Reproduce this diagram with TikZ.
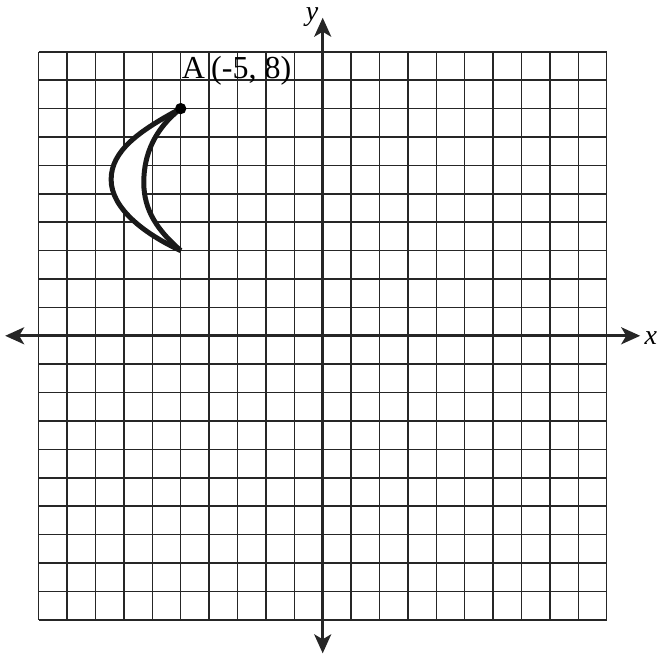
\documentclass[tikz,border=0pt]{standalone}
\usepackage{fontspec}
\setmainfont{Liberation Serif}
\usetikzlibrary{arrows.meta}
\begin{document}
\begin{tikzpicture}[x=28.4pt,y=28.4pt,
  gridline/.style={line width=1.5pt,black!85},
  axisline/.style={line width=2.8pt,black!85,{Stealth[length=19pt,width=17pt,inset=5pt]}-{Stealth[length=19pt,width=17pt,inset=5pt]}},
  curveline/.style={line width=5pt,black!90,line join=round},
  lbl/.style={font=\fontsize{32}{34}\selectfont,inner sep=0pt},
  axlbl/.style={font=\fontsize{28}{30}\selectfont\itshape,inner sep=0pt}]
\useasboundingbox (-11.363,-11.275) rectangle (11.912,11.824);
\foreach \i in {-10,...,10} {
  \draw[gridline] (\i,-10) -- (\i,10);
  \draw[gridline] (-10,\i) -- (10,\i);
}
\coordinate (xl) at (-11.18,0);
\coordinate (xr) at (11.18,0);
\coordinate (yb) at (0,-11.18);
\coordinate (yt) at (0,11.2);
\draw[axisline] (xl) -- (xr);
\draw[axisline] (yb) -- (yt);
\node[axlbl,anchor=base west] (xlab) at (11.33,-0.32) {x};
\node[axlbl,anchor=base west] (ylab) at (-0.6,11.1) {y};
\coordinate (A) at (-5,8);
\coordinate (B) at (-5,3);
\fill[white] (A) .. controls (-6.5,7.2) and (-7.45,6.5) .. (-7.45,5.5)
  .. controls (-7.45,4.5) and (-6.3,3.6) .. (B)
  .. controls (-5.8,3.7) and (-6.3,4.4) .. (-6.3,5.4)
  .. controls (-6.3,6.4) and (-5.9,7.3) .. (A) -- cycle;
\draw[curveline] (A) .. controls (-6.5,7.2) and (-7.45,6.5) .. (-7.45,5.5)
  .. controls (-7.45,4.5) and (-6.3,3.6) .. (B);
\draw[curveline] (A) .. controls (-5.9,7.3) and (-6.3,6.4) .. (-6.3,5.4)
  .. controls (-6.3,4.4) and (-5.8,3.7) .. (B);
\fill[black] (A) circle (0.2);
\node[lbl,anchor=base west] (alab) at (-4.97,9.05) {A\hspace{0.2em}(-5, 8)};
\end{tikzpicture}
\end{document}
